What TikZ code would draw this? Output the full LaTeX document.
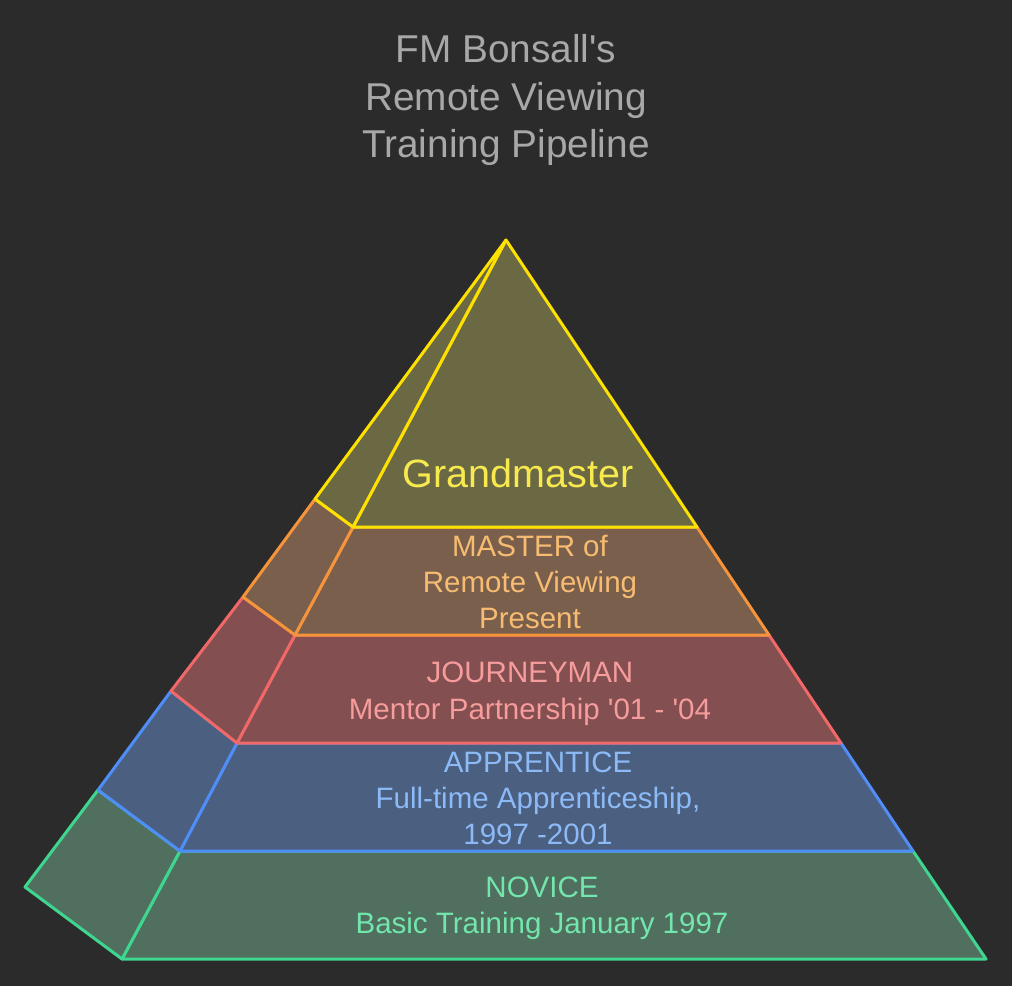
\documentclass[tikz,border=0pt]{standalone}
\usepackage{fontspec}
\setmainfont{Liberation Sans}[Ligatures=TeXOff]
\definecolor{bg}{HTML}{2B2B2B}
\definecolor{titlec}{HTML}{A8A8A8}
\definecolor{ystroke}{HTML}{FFE100}
\definecolor{yfill}{HTML}{6B6944}
\definecolor{ytext}{HTML}{F8EA4E}
\definecolor{ostroke}{HTML}{F5943A}
\definecolor{ofill}{HTML}{795F4C}
\definecolor{otext}{HTML}{F7BC72}
\definecolor{rstroke}{HTML}{F06868}
\definecolor{rfill}{HTML}{834F50}
\definecolor{rtext}{HTML}{F79C9C}
\definecolor{bstroke}{HTML}{4F8EF7}
\definecolor{bfill}{HTML}{4B5F80}
\definecolor{btext}{HTML}{8CBAF7}
\definecolor{gstroke}{HTML}{3FD68F}
\definecolor{gfill}{HTML}{506F5E}
\definecolor{gtext}{HTML}{72E6AD}
\begin{document}
\begin{tikzpicture}[x=1pt,y=-1pt,
  face/.style={line width=3pt,line join=round},
  titletxt/.style={anchor=base,inner sep=0pt,text=titlec,font=\fontsize{38.8}{46}\selectfont},
  layertxt/.style={anchor=base,inner sep=0pt,font=\fontsize{29.5}{36}\selectfont}]
\fill[bg] (0,0) rectangle (1012,986);
\useasboundingbox (0,0) rectangle (1012,986);
% coordinates
\coordinate (apex) at (506,240);
\coordinate (f1) at (353,527); \coordinate (r1) at (697,527); \coordinate (s1) at (315,499);
\coordinate (f2) at (295,635); \coordinate (r2) at (769,635); \coordinate (s2) at (243,597);
\coordinate (f3) at (237,743); \coordinate (r3) at (841,743); \coordinate (s3) at (171,691);
\coordinate (f4) at (180,851); \coordinate (r4) at (913,851); \coordinate (s4) at (98,790);
\coordinate (f5) at (122,959); \coordinate (r5) at (986,959); \coordinate (s5) at (25,887);
% novice
\filldraw[face,draw=gstroke,fill=gfill] (f4) -- (r4) -- (r5) -- (f5) -- cycle;
\filldraw[face,draw=gstroke,fill=gfill] (f4) -- (s4) -- (s5) -- (f5) -- cycle;
% apprentice
\filldraw[face,draw=bstroke,fill=bfill] (f3) -- (r3) -- (r4) -- (f4) -- cycle;
\filldraw[face,draw=bstroke,fill=bfill] (f3) -- (s3) -- (s4) -- (f4) -- cycle;
% journeyman
\filldraw[face,draw=rstroke,fill=rfill] (f2) -- (r2) -- (r3) -- (f3) -- cycle;
\filldraw[face,draw=rstroke,fill=rfill] (f2) -- (s2) -- (s3) -- (f3) -- cycle;
% master
\filldraw[face,draw=ostroke,fill=ofill] (f1) -- (r1) -- (r2) -- (f2) -- cycle;
\filldraw[face,draw=ostroke,fill=ofill] (f1) -- (s1) -- (s2) -- (f2) -- cycle;
% grandmaster
\filldraw[face,draw=ystroke,fill=yfill] (apex) -- (r1) -- (f1) -- cycle;
\filldraw[face,draw=ystroke,fill=yfill] (apex) -- (f1) -- (s1) -- cycle;
% title
\node[titletxt] (t1) at (506,62) {FM Bonsall\textquotesingle s};
\node[titletxt] (t2) at (506,110) {Remote Viewing};
\node[titletxt] (t3) at (506,157) {Training Pipeline};
% texts
\node[anchor=base,inner sep=0pt,text=ytext,font=\fontsize{39.5}{46}\selectfont] (gm) at (518,487) {Grandmaster};
\node[layertxt,text=otext] (m1) at (530,556) {MASTER of};
\node[layertxt,text=otext] (m2) at (530,592.5) {Remote Viewing};
\node[layertxt,text=otext] (m3) at (530,628) {Present};
\node[layertxt,text=rtext] (j1) at (530,682) {JOURNEYMAN};
\node[layertxt,text=rtext] (j2) at (530,719) {Mentor Partnership \textquotesingle 01 - \textquotesingle 04};
\node[layertxt,text=btext] (a1) at (538,772.5) {APPRENTICE};
\node[layertxt,text=btext] (a2) at (538,808) {Full-time Apprenticeship,};
\node[layertxt,text=btext] (a3) at (538,844) {1997 -2001};
\node[layertxt,text=gtext] (n1) at (542,897) {NOVICE};
\node[layertxt,text=gtext] (n2) at (542,933) {Basic Training January 1997};
\end{tikzpicture}
\end{document}
